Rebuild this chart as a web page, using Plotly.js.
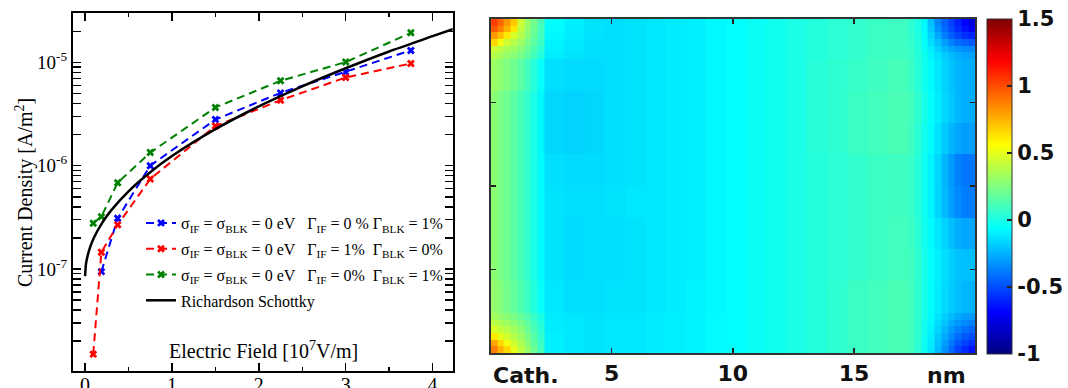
<!DOCTYPE html>
<html>
<head>
<meta charset="utf-8">
<script src="https://cdn.plot.ly/plotly-3.0.1.min.js"></script>
<style>html,body{margin:0;padding:0;background:#fff;}#chart{width:1068px;height:388px;}</style>
</head>
<body>
<div id="chart"></div>
<script>
// ---------- Left panel: current density vs field ----------
const fieldBlue = [0.1875, 0.375, 0.75, 1.5, 2.25, 3.0, 3.75];
const jBlue = [9.4e-8, 3.09e-7, 1.0e-6, 2.8e-6, 5.08e-6, 8.1e-6, 1.31e-5];
const fieldRed = [0.09375, 0.1875, 0.375, 0.75, 1.5, 2.25, 3.0, 3.75];
const jRed = [1.49e-8, 1.45e-7, 2.67e-7, 7.43e-7, 2.42e-6, 4.31e-6, 7.16e-6, 9.78e-6];
const fieldGreen = [0.09375, 0.1875, 0.375, 0.75, 1.5, 2.25, 3.0, 3.75];
const jGreen = [2.77e-7, 3.21e-7, 6.84e-7, 1.34e-6, 3.67e-6, 6.65e-6, 1.01e-5, 1.94e-5];
const fieldRS = [0, 0.01, 0.03, 0.06, 0.1, 0.2, 0.3, 0.5, 0.75, 1, 1.5, 2, 2.5, 3, 3.5, 4, 4.25];
const jRS = [8.5e-8, 1.11e-7, 1.35e-7, 1.64e-7, 1.99e-7, 2.82e-7, 3.69e-7, 5.65e-7, 8.65e-7, 1.24e-6, 2.26e-6, 3.76e-6, 5.88e-6, 8.8e-6, 1.28e-5, 1.8e-5, 2.13e-5];
const seriesNames = [
  "σ<sub>IF</sub> = σ<sub>BLK</sub> = 0 eV\u00a0\u00a0\u00a0Γ<sub>IF</sub> = 0 % Γ<sub>BLK</sub> = 1%",
  "σ<sub>IF</sub> = σ<sub>BLK</sub> = 0 eV\u00a0\u00a0\u00a0Γ<sub>IF</sub> = 1%\u00a0\u00a0Γ<sub>BLK</sub> = 0%",
  "σ<sub>IF</sub> = σ<sub>BLK</sub> = 0 eV\u00a0\u00a0\u00a0Γ<sub>IF</sub> = 0%\u00a0\u00a0Γ<sub>BLK</sub> = 1%",
  "Richardson Schottky"
];
const xTickVals = [0, 1, 2, 3, 4];
const yTickVals = [1e-7, 1e-6, 1e-5];
const yTickText = ["10<sup>-7</sup>", "10<sup>-6</sup>", "10<sup>-5</sup>"];

// ---------- Right panel: heatmap ----------
const heatXEdges = [0, 0.2778, 0.5556, 0.8333, 1.1111, 1.3889, 1.6667, 1.9444, 2.2222,
  3.0556, 3.8889, 4.7222, 5.5556, 6.3889, 7.2222, 8.0556, 8.8889, 9.7222, 10.5556, 11.3889,
  12.2222, 13.0556, 13.8889, 14.7222, 15.5556, 16.3889, 17.2222,
  17.5, 17.7778, 18.0556, 18.3333, 18.6111, 18.8889, 19.1667, 19.4444, 19.7222, 20];
const heatYEdges = [0, 0.4, 0.8, 1.2, 1.6, 2.0, 2.4, 4.3, 6.2, 8.1, 10.0, 11.9, 13.8, 15.7, 17.6, 18.0, 18.4, 18.8, 19.2, 19.6, 20];
const heatRows = [
 [0.875,0.75,0.66,0.5,0.4,0.3,0.2,0.1, -0.1,-0.12,-0.13,-0.12,-0.12,-0.11,-0.1,-0.09,-0.07,-0.06,-0.04,-0.02,0.0,0.02,0.05,0.08,0.1,0.12, 0.1,0.04,-0.04,-0.12,-0.23,-0.33,-0.43,-0.52,-0.59,-0.64],
 [0.78,0.66,0.53,0.44,0.36,0.27,0.17,0.08, -0.1,-0.12,-0.13,-0.12,-0.12,-0.11,-0.1,-0.09,-0.07,-0.06,-0.04,-0.02,0.0,0.02,0.05,0.08,0.1,0.12, 0.1,0.04,-0.03,-0.11,-0.21,-0.3,-0.39,-0.47,-0.53,-0.57],
 [0.62,0.5,0.45,0.38,0.32,0.24,0.15,0.06, -0.1,-0.12,-0.13,-0.12,-0.12,-0.11,-0.1,-0.09,-0.07,-0.06,-0.04,-0.02,0.0,0.02,0.05,0.08,0.1,0.12, 0.1,0.05,-0.03,-0.1,-0.19,-0.27,-0.35,-0.42,-0.47,-0.5],
 [0.47,0.42,0.38,0.33,0.28,0.2,0.12,0.04, -0.11,-0.12,-0.13,-0.12,-0.12,-0.11,-0.1,-0.09,-0.07,-0.06,-0.04,-0.02,0.0,0.02,0.05,0.08,0.1,0.12, 0.1,0.05,-0.02,-0.09,-0.17,-0.24,-0.31,-0.37,-0.41,-0.44],
 [0.4,0.36,0.32,0.28,0.23,0.17,0.1,0.02, -0.11,-0.12,-0.13,-0.12,-0.12,-0.11,-0.1,-0.09,-0.07,-0.06,-0.04,-0.02,0.0,0.02,0.05,0.08,0.1,0.12, 0.1,0.05,-0.02,-0.08,-0.15,-0.21,-0.27,-0.32,-0.35,-0.37],
 [0.34,0.3,0.27,0.23,0.19,0.14,0.07,0.0, -0.11,-0.12,-0.13,-0.12,-0.12,-0.11,-0.1,-0.09,-0.07,-0.06,-0.04,-0.02,0.0,0.02,0.05,0.08,0.1,0.12, 0.1,0.05,-0.01,-0.07,-0.13,-0.18,-0.23,-0.27,-0.3,-0.31],
 [0.3,0.26,0.22,0.18,0.13,0.08,0.02,-0.05, -0.12,-0.14,-0.14,-0.13,-0.13,-0.12,-0.11,-0.09,-0.08,-0.06,-0.04,-0.02,0.0,0.02,0.05,0.08,0.1,0.12, 0.1,0.05,-0.01,-0.06,-0.11,-0.15,-0.19,-0.22,-0.24,-0.25],
 [0.28,0.24,0.2,0.16,0.11,0.06,0.0,-0.07, -0.13,-0.15,-0.14,-0.14,-0.13,-0.12,-0.11,-0.1,-0.08,-0.06,-0.04,-0.02,0.0,0.02,0.04,0.06,0.08,0.1, 0.09,0.05,-0.01,-0.06,-0.1,-0.14,-0.18,-0.21,-0.22,-0.22],
 [0.28,0.24,0.2,0.16,0.11,0.06,0.0,-0.07, -0.13,-0.15,-0.14,-0.14,-0.13,-0.12,-0.11,-0.1,-0.08,-0.06,-0.04,-0.02,0.0,0.02,0.04,0.06,0.08,0.1, 0.08,0.04,-0.02,-0.07,-0.12,-0.17,-0.22,-0.26,-0.28,-0.28],
 [0.28,0.24,0.2,0.16,0.11,0.06,0.0,-0.07, -0.13,-0.14,-0.14,-0.13,-0.12,-0.12,-0.11,-0.1,-0.08,-0.06,-0.04,-0.02,0.0,0.02,0.04,0.06,0.08,0.09, 0.07,0.03,-0.03,-0.09,-0.16,-0.23,-0.3,-0.35,-0.38,-0.38],
 [0.28,0.24,0.2,0.16,0.11,0.06,0.0,-0.07, -0.14,-0.15,-0.15,-0.14,-0.13,-0.12,-0.11,-0.1,-0.08,-0.06,-0.04,-0.02,0.0,0.02,0.04,0.06,0.08,0.09, 0.07,0.03,-0.03,-0.09,-0.16,-0.24,-0.31,-0.37,-0.4,-0.4],
 [0.28,0.24,0.2,0.16,0.11,0.06,0.0,-0.08, -0.16,-0.17,-0.16,-0.14,-0.13,-0.12,-0.11,-0.1,-0.08,-0.06,-0.04,-0.02,0.0,0.03,0.05,0.08,0.1,0.12, 0.09,0.04,-0.02,-0.07,-0.13,-0.19,-0.24,-0.28,-0.3,-0.3],
 [0.28,0.24,0.2,0.16,0.11,0.06,0.0,-0.08, -0.16,-0.17,-0.16,-0.14,-0.13,-0.12,-0.11,-0.1,-0.08,-0.06,-0.04,-0.02,0.0,0.03,0.05,0.08,0.1,0.12, 0.1,0.05,-0.01,-0.06,-0.11,-0.16,-0.2,-0.24,-0.26,-0.26],
 [0.32,0.28,0.25,0.21,0.16,0.1,0.03,-0.05, -0.14,-0.15,-0.15,-0.14,-0.13,-0.12,-0.11,-0.1,-0.08,-0.06,-0.04,-0.02,0.0,0.03,0.05,0.07,0.09,0.11, 0.08,0.03,-0.02,-0.07,-0.12,-0.17,-0.21,-0.24,-0.26,-0.26],
 [0.38,0.34,0.3,0.27,0.23,0.17,0.1,0.02, -0.11,-0.13,-0.14,-0.14,-0.13,-0.12,-0.11,-0.1,-0.08,-0.06,-0.04,-0.02,0.0,0.02,0.04,0.06,0.08,0.09, 0.07,0.03,-0.03,-0.09,-0.14,-0.19,-0.23,-0.26,-0.28,-0.29],
 [0.44,0.4,0.35,0.32,0.27,0.2,0.13,0.05, -0.1,-0.12,-0.14,-0.14,-0.13,-0.12,-0.11,-0.1,-0.08,-0.06,-0.04,-0.02,0.0,0.02,0.04,0.06,0.08,0.09, 0.07,0.02,-0.04,-0.11,-0.18,-0.24,-0.29,-0.32,-0.34,-0.35],
 [0.66,0.53,0.44,0.38,0.32,0.24,0.16,0.08, -0.09,-0.12,-0.14,-0.14,-0.13,-0.12,-0.11,-0.1,-0.08,-0.06,-0.04,-0.02,0.0,0.02,0.04,0.06,0.08,0.09, 0.06,0.02,-0.05,-0.14,-0.22,-0.3,-0.37,-0.42,-0.45,-0.47],
 [0.81,0.72,0.62,0.47,0.38,0.28,0.19,0.1, -0.08,-0.11,-0.13,-0.14,-0.13,-0.12,-0.11,-0.1,-0.08,-0.06,-0.04,-0.02,0.0,0.02,0.04,0.06,0.08,0.09, 0.06,0.01,-0.06,-0.17,-0.28,-0.38,-0.46,-0.52,-0.57,-0.6],
 [0.97,0.875,0.75,0.62,0.41,0.3,0.2,0.11, -0.07,-0.11,-0.13,-0.14,-0.13,-0.12,-0.11,-0.1,-0.08,-0.06,-0.04,-0.02,0.0,0.02,0.04,0.06,0.08,0.09, 0.05,0.0,-0.07,-0.2,-0.33,-0.43,-0.51,-0.58,-0.65,-0.71],
 [1.03,0.94,0.81,0.69,0.44,0.31,0.22,0.12, -0.06,-0.1,-0.13,-0.14,-0.13,-0.12,-0.11,-0.1,-0.08,-0.06,-0.04,-0.02,0.0,0.02,0.04,0.06,0.08,0.09, 0.05,0.0,-0.08,-0.22,-0.36,-0.45,-0.53,-0.61,-0.69,-0.77]
];
const cbTickVals = [-1, -0.5, 0, 0.5, 1, 1.5];
const cbTickText = ["-1", "-0.5", "0", "0.5", "1", "1.5"];
const heatTickVals = [5, 10, 15];
const heatTickText = ["5", "10", "15"];

const W = 1068, H = 388;
const px = v => v / W, py = v => (H - v) / H;
const serif = "Liberation Serif, Times New Roman, serif";
const sans = "DejaVu Sans, sans-serif";
const dashPat = "8px,5px";

const traces = [
  {x: fieldBlue, y: jBlue, name: seriesNames[0], type: "scatter", mode: "lines+markers", legendgroup: "a",
   line: {color: "#0000ff", width: 2, dash: dashPat}, marker: {symbol: "x", size: 7, color: "#0000ff"}, xaxis: "x", yaxis: "y"},
  {x: fieldRed, y: jRed, name: seriesNames[1], type: "scatter", mode: "lines+markers", legendgroup: "b",
   line: {color: "#ff0000", width: 2, dash: dashPat}, marker: {symbol: "x", size: 7, color: "#ff0000"}, xaxis: "x", yaxis: "y"},
  {x: fieldGreen, y: jGreen, name: seriesNames[2], type: "scatter", mode: "lines+markers", legendgroup: "c",
   line: {color: "#008000", width: 2, dash: dashPat}, marker: {symbol: "x", size: 7, color: "#008000"}, xaxis: "x", yaxis: "y"},
  {x: fieldRS, y: jRS, name: seriesNames[3], type: "scatter", mode: "lines", legendgroup: "d",
   line: {color: "#000000", width: 2.5, shape: "spline", smoothing: 0.6}, xaxis: "x", yaxis: "y"},
  // empty carrier trace so that the tick-label axis x3 is drawn
  {x: [], y: [], type: "scatter", mode: "markers", xaxis: "x3", yaxis: "y", showlegend: false, hoverinfo: "skip"},
  {type: "heatmap", x: heatXEdges, y: heatYEdges, z: heatRows, xaxis: "x2", yaxis: "y2", showlegend: false,
   zmin: -1, zmax: 1.5, zsmooth: false,
   colorscale: [[0, "rgb(0,0,128)"], [0.125, "rgb(0,0,255)"], [0.375, "rgb(0,255,255)"], [0.625, "rgb(255,255,0)"], [0.875, "rgb(255,0,0)"], [1, "rgb(128,0,0)"]],
   colorbar: {x: px(987), xanchor: "left", xpad: 0, ypad: 0, thickness: 25, thicknessmode: "pixels",
     len: 335 / H, lenmode: "fraction", y: py(354), yanchor: "bottom",
     outlinecolor: "#333", outlinewidth: 1, tickvals: cbTickVals, ticktext: cbTickText,
     ticks: "inside", ticklen: 5, tickcolor: "#222", tickwidth: 1.5,
     tickfont: {family: sans, size: 21, color: "#111", weight: "bold"}}}
];

const layout = {
  width: W, height: H, margin: {l: 0, r: 0, t: 0, b: 0},
  paper_bgcolor: "#fff", plot_bgcolor: "#fff", showlegend: true,
  xaxis: {domain: [px(73), px(453)], range: [-0.14, 4.23], tickvals: xTickVals, showticklabels: false,
    ticks: "inside", ticklen: 8, tickwidth: 1.5, tickcolor: "#000", showline: true, linecolor: "#000", linewidth: 2,
    mirror: "allticks", showgrid: false, zeroline: false,
    minor: {dtick: 0.5, tick0: 0, ticks: "inside", ticklen: 4, tickcolor: "#000", tickwidth: 1.5, showgrid: false},
    anchor: "y"},
  xaxis3: {overlaying: "x", anchor: "free", position: py(371), range: [-0.14, 4.23],
    tickvals: xTickVals, ticks: "", showline: false, showgrid: false, zeroline: false, side: "bottom",
    tickfont: {family: serif, size: 20, color: "#000"}},
  yaxis: {domain: [py(371), py(13)], type: "log", range: [-7.99, -4.52], tickvals: yTickVals, ticktext: yTickText,
    ticks: "inside", ticklen: 8, tickwidth: 1.5, tickcolor: "#000", showline: true, linecolor: "#000", linewidth: 2,
    mirror: "allticks", showgrid: false, zeroline: false,
    minor: {dtick: "D1", ticks: "inside", ticklen: 4, tickcolor: "#000", tickwidth: 1.5, showgrid: false},
    tickfont: {family: serif, size: 19, color: "#000"}, anchor: "x"},
  xaxis2: {domain: [px(491), px(976)], range: [0, 20], tickvals: heatTickVals, ticktext: heatTickText,
    ticks: "inside", ticklen: 5, tickcolor: "#222", tickwidth: 1.5, showline: true, linecolor: "#333", linewidth: 2,
    mirror: "ticks", showgrid: false, zeroline: false, anchor: "y2",
    tickfont: {family: sans, size: 22, color: "#111", weight: "bold"}},
  yaxis2: {domain: [py(353), py(19)], range: [0, 20], tickvals: heatTickVals, showticklabels: false,
    ticks: "inside", ticklen: 5, tickcolor: "#222", tickwidth: 1.5, showline: true, linecolor: "#333", linewidth: 2,
    mirror: "ticks", showgrid: false, zeroline: false, anchor: "x2"},
  legend: {x: px(141), y: py(206), xanchor: "left", yanchor: "top", bgcolor: "rgba(0,0,0,0)",
    font: {family: serif, size: 16, color: "#000"}, tracegroupgap: 2, itemwidth: 30},
  annotations: [
    {xref: "paper", yref: "paper", x: px(24), y: py(192), text: "Current Density [A/m<sup>2</sup>]", textangle: -90,
     showarrow: false, font: {family: serif, size: 20, color: "#000"}, xanchor: "center", yanchor: "middle"},
    {xref: "paper", yref: "paper", x: px(264), y: py(350), text: "Electric Field [10<sup>7</sup>V/m]",
     showarrow: false, font: {family: serif, size: 20, color: "#000"}, xanchor: "center", yanchor: "middle"},
    {xref: "paper", yref: "paper", x: px(491), y: py(375), text: "Cath.", showarrow: false,
     font: {family: sans, size: 22, color: "#111", weight: "bold"}, xanchor: "left", yanchor: "middle"},
    {xref: "paper", yref: "paper", x: px(947), y: py(375), text: "nm", showarrow: false,
     font: {family: sans, size: 22, color: "#111", weight: "bold"}, xanchor: "center", yanchor: "middle"}
  ]
};

Plotly.newPlot("chart", traces, layout, {staticPlot: true, displayModeBar: false});
</script>
</body>
</html>
